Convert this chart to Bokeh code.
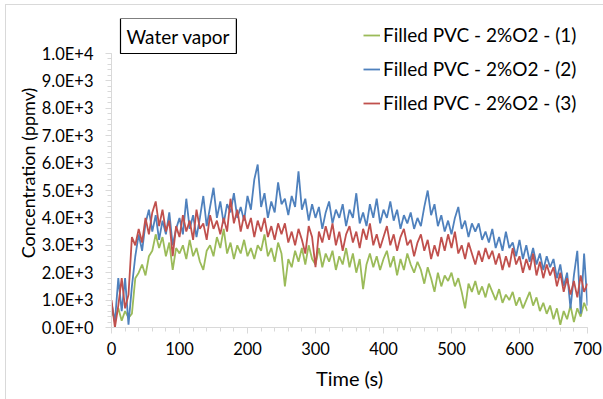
from bokeh.plotting import figure
from bokeh.models import FixedTicker, Legend, LegendItem, Label
from bokeh.embed import file_html
from bokeh.resources import INLINE

# ---------------- data ----------------
time_s = list(range(0, 705, 5))

pvc_1 = [600, 300, 700, 250, 600, 350, 500, 1800, 2000, 2300,
         1900, 2600, 2800, 3400, 2900, 3300, 2600, 3100, 2100, 2900,
         2700, 3000, 2500, 3200, 2600, 2900, 2400, 2100, 2800, 3000,
         2600, 3300, 2900, 3600, 2700, 3100, 2500, 3000, 2700, 3200,
         2600, 2900, 2500, 3000, 2800, 3400, 2600, 2900, 2400, 3100,
         2700, 1500, 2500, 2200, 2800, 2400, 2900, 2300, 3000, 2500,
         2300, 2900, 2200, 2700, 2400, 2800, 2100, 2600, 2300, 2900,
         2200, 2700, 2000, 2500, 1400, 2300, 2700, 2200, 2600, 2100,
         2500, 2800, 2200, 2600, 1900, 2500, 2100, 2700, 2300, 2000,
         2400, 2100, 1600, 2200, 1800, 1300, 2000, 1500, 1900, 1700,
         2000, 1500, 1800, 1300, 700, 1600, 1300, 1700, 1200, 1500,
         1100, 1600, 1300, 1000, 1400, 900, 1200, 1000, 1300, 800,
         1100, 700, 1000, 1300, 800, 1100, 600, 900, 500, 800,
         300, 700, 100, 600, 300, 800, 200, 700, 400, 900,
         600]

pvc_2 = [900, 200, 1800, 600, 1800, 100, 1500, 2600, 3400, 2800,
         3800, 4300, 3500, 4100, 3200, 3900, 3400, 4200, 3000, 3600,
         4000, 3400, 4700, 3600, 4100, 3300, 4000, 4800, 3700, 4400,
         5100, 4000, 4600, 3800, 4500, 4200, 4900, 4000, 4400, 3900,
         4800, 4300, 5400, 5950, 4400, 4900, 4000, 4600, 4200, 5300,
         4500, 4700, 4100, 4800, 4400, 5700, 4300, 4700, 3900, 4500,
         4000, 4400, 3600, 4200, 4600, 3800, 4300, 4000, 4500, 3700,
         4300, 4000, 4900, 3800, 4200, 3700, 4500, 4000, 4700, 3800,
         4300, 4000, 4600, 3900, 4300, 3600, 4100, 3800, 4200, 3600,
         4000, 3700, 4400, 5000, 4100, 4500, 3700, 4100, 3500, 3900,
         3400, 4000, 4400, 3600, 3900, 3300, 3800, 3500, 3800, 3200,
         3500, 3100, 3600, 2900, 3300, 2800, 3500, 2900, 3100, 2600,
         3200, 2500, 3000, 2400, 2900, 2300, 2700, 2100, 2600, 2200,
         2500, 1800, 2300, 1500, 2000, 700, 1900, 2800, 500, 2700,
         800]

pvc_3 = [1000, 0, 800, 1800, 700, 1200, 3300, 3000, 3600, 3100,
         4000, 3400, 4200, 4600, 3700, 4300, 3500, 3900, 2600, 3700,
         3300, 4100, 3500, 3900, 3200, 4300, 3600, 3800, 3200, 4100,
         3600, 3900, 3400, 4000, 3500, 4700, 3800, 4300, 3500, 4100,
         3600, 4000, 3300, 3900, 3500, 4000, 3300, 3700, 3200, 3800,
         3400, 3800, 3100, 3500, 3000, 3600, 3200, 2700, 3700, 3300,
         2200, 3500, 3100, 3700, 3200, 3800, 3000, 3500, 2800, 3400,
         3700, 3100, 3500, 2900, 3600, 3200, 3800, 3000, 3400, 2900,
         3300, 3700, 3000, 3400, 2800, 3300, 3600, 3000, 3200, 2600,
         3100, 3400, 2800, 3200, 2500, 3000, 2600, 3300, 2800, 3400,
         2900, 3500, 2700, 3000, 2500, 3100, 2700, 2300, 2800, 2400,
         2900, 2500, 2800, 2300, 2700, 2100, 2600, 2200, 2900, 2300,
         2600, 2000, 2500, 2100, 2700, 1900, 2400, 1800, 2300, 1900,
         2200, 1500, 2000, 1300, 1800, 1200, 1700, 1100, 1900, 1300,
         1600]

series_names = ["Filled PVC - 2%O2 - (1)", "Filled PVC - 2%O2 - (2)", "Filled PVC - 2%O2 - (3)"]
series_colors = ["#9BBB59", "#4F81BD", "#C0504D"]

x_ticks = [0, 100, 200, 300, 400, 500, 600, 700]
y_ticks = [0, 1000, 2000, 3000, 4000, 5000, 6000, 7000, 8000, 9000, 10000]
y_tick_labels = ["0.0E+0", "1.0E+3", "2.0E+3", "3.0E+3", "4.0E+3", "5.0E+3",
                 "6.0E+3", "7.0E+3", "8.0E+3", "9.0E+3", "1.0E+4"]

FONT = "Lato"

# ---------------- layout ----------------
W, H = 603, 399
LEFT, RIGHT_PAD, BOTTOM_PAD = 111, 16, 72
AXIS_TOP = 53          # pixel row of the 1.0E+4 tick
FRAME_TOP = 18         # frame extends above the axis top so annotations are not clipped
frame_h = H - BOTTOM_PAD - FRAME_TOP
axis_h = H - BOTTOM_PAD - AXIS_TOP
y_max = y_ticks[-1]
y_end = y_max * frame_h / axis_h

p = figure(width=W, height=H, output_backend="svg", toolbar_location=None,
           x_range=(0, 700), y_range=(0, y_end),
           min_border_left=LEFT, min_border_right=RIGHT_PAD,
           min_border_top=FRAME_TOP, min_border_bottom=BOTTOM_PAD)
p.outline_line_color = None
p.grid.visible = False
p.background_fill_color = "white"
p.border_fill_alpha = 0
# thin light-grey chart border (left and top edges visible in the reference)
p.styles = {
    "background-color": "white",
    "background-image": "linear-gradient(#D9D9D9, #D9D9D9), linear-gradient(#D9D9D9, #D9D9D9)",
    "background-size": "1px 100%, 100% 1px",
    "background-position": "5px 4px, 5px 4px",
    "background-repeat": "no-repeat",
}

renderers = []
for ys, c in zip([pvc_1, pvc_2, pvc_3], series_colors):
    r = p.line(time_s, ys, line_color=c, line_width=1.8)
    renderers.append(r)

# axes
for ax in (p.xaxis[0], p.yaxis[0]):
    ax.axis_line_color = "#D9D9D9"
    ax.axis_line_width = 1
    ax.major_tick_line_color = "#D9D9D9"
    ax.minor_tick_line_color = "#D9D9D9"
    ax.major_tick_in = 0
    ax.major_tick_out = 6
    ax.minor_tick_in = 0
    ax.minor_tick_out = 4
    ax.major_label_text_font = FONT
    ax.major_label_text_font_size = "16.5px"
    ax.major_label_text_color = "#000000"
    ax.axis_label_text_font = FONT
    ax.axis_label_text_font_style = "normal"
    ax.axis_label_text_color = "#000000"

p.xaxis.axis_label_text_font_size = "20px"
p.yaxis.axis_label_text_font_size = "18px"
p.yaxis.bounds = (0, y_max)
p.xaxis.ticker = FixedTicker(ticks=x_ticks, minor_ticks=list(range(0, 720, 20)))
p.yaxis.ticker = FixedTicker(ticks=y_ticks, minor_ticks=list(range(0, 10200, 200)))
p.yaxis.major_label_overrides = {v: s for v, s in zip(y_ticks, y_tick_labels)}
p.xaxis.axis_label = "Time (s)"
p.yaxis.axis_label = "Concentration (ppmv)"
p.xaxis.major_label_standoff = 8
p.yaxis.major_label_standoff = 12
p.xaxis.axis_label_standoff = 8
p.yaxis.axis_label_standoff = 0

# title box
lab = Label(x=9, y=axis_h, x_units="screen", y_units="screen", text="Water vapor",
            text_font=FONT, text_font_size="19px", text_color="black",
            text_align="left", text_baseline="bottom",
            border_line_color="black", border_line_width=1.2,
            background_fill_color="white", padding=6)
p.add_layout(lab)

# legend
legend = Legend(items=[LegendItem(label=n, renderers=[r]) for n, r in zip(series_names, renderers)],
                location=(252, 213), orientation="vertical",
                label_text_font=FONT, label_text_font_size="19px", label_text_color="black",
                glyph_width=17, glyph_height=20, label_standoff=3, spacing=11,
                padding=0, margin=0, background_fill_alpha=0, border_line_alpha=0)
p.add_layout(legend, "center")

open("out.html", "w").write(file_html(p, INLINE))
